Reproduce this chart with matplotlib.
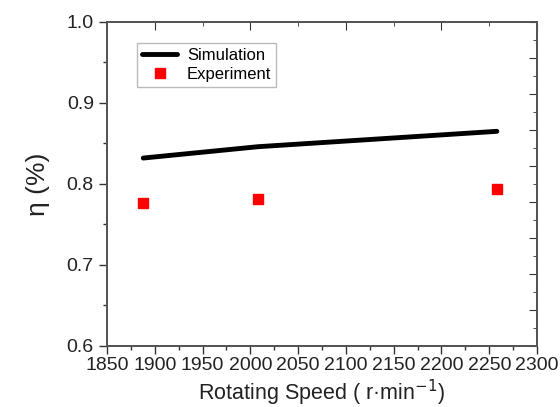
import numpy as np
import matplotlib
matplotlib.use("Agg")
import matplotlib.pyplot as plt
from matplotlib.ticker import MultipleLocator

# data
speed = [1888, 2008, 2258]
sim_eta = [0.832, 0.846, 0.865]
exp_eta = [0.776, 0.782, 0.794]

plt.rcParams["font.family"] = ["Liberation Sans", "DejaVu Sans"]

fig = plt.figure(figsize=(5.6, 4.07), dpi=100)
ax = fig.add_axes([0.191, 0.150, 0.768, 0.796])

ax.plot(speed, sim_eta, color="black", lw=3.5, solid_capstyle="round",
        label="Simulation")
ax.plot(speed, exp_eta, ls="none", marker="s", ms=6.5, color="#ff0000",
        mec="#ff0000", label="Experiment")

ax.set_xlim(1850, 2300)
ax.set_ylim(0.6, 1.0)
ax.xaxis.set_major_locator(MultipleLocator(50))
ax.xaxis.set_minor_locator(MultipleLocator(25))
ax.yaxis.set_major_locator(MultipleLocator(0.1))
ax.yaxis.set_minor_locator(MultipleLocator(0.05))
ax.tick_params(which="both", direction="out", width=1, colors="#333333",
               labelcolor="#222222", labelsize=14, top=False, right=False)
ax.tick_params(which="major", length=6)
ax.tick_params(which="minor", length=3)
ax.tick_params(axis="x", pad=2)

# Origin-style mirrored axes with inward ticks
top = ax.twiny()
top.set_xlim(1850, 2300)
top.xaxis.set_major_locator(MultipleLocator(100))
top.xaxis.set_minor_locator(MultipleLocator(50))
top.tick_params(which="both", direction="in", labeltop=False, colors="#333333")
top.tick_params(which="major", length=6)
top.tick_params(which="minor", length=3)

right = ax.twinx()
right.set_ylim(0, 9)
right.yaxis.set_major_locator(MultipleLocator(1))
right.yaxis.set_minor_locator(MultipleLocator(0.5))
right.tick_params(which="both", direction="in", labelright=False, colors="#333333")
right.tick_params(which="major", length=6)
right.tick_params(which="minor", length=3)

for a in (ax, top, right):
    for s in a.spines.values():
        s.set_color("#555555")
        s.set_linewidth(1.2)

ax.set_xlabel("Rotating Speed ( r\u00b7min$^{-1}$)", fontsize=15.5,
              color="#222222", labelpad=3)
ax.set_ylabel("\u03b7 (%)", fontsize=19, color="#222222", labelpad=12)

leg = ax.legend(loc="upper left", bbox_to_anchor=(0.07, 0.935), fontsize=12,
                frameon=True, fancybox=False, edgecolor="#aaaaaa",
                handlelength=2.1, handletextpad=0.6, borderpad=0.3,
                labelspacing=0.25, borderaxespad=0)
leg.get_frame().set_linewidth(1)

fig.savefig("out.png", dpi=100)
